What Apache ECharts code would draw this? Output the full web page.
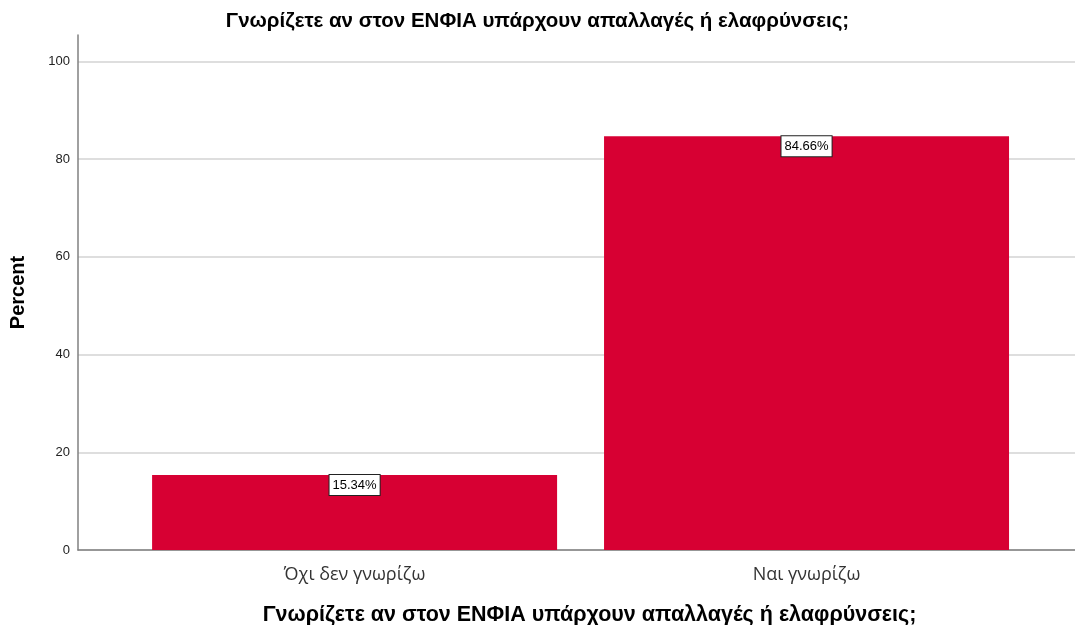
<!DOCTYPE html>
<html>
<head>
<meta charset="utf-8">
<script src="https://cdn.jsdelivr.net/npm/echarts@6/dist/echarts.min.js"></script>
<style>
  html, body { margin: 0; padding: 0; background: #fff; }
  #chart { width: 1075px; height: 625px; }
</style>
</head>
<body>
<div id="chart"></div>
<script>
// Survey answers and their share of respondents (%)
const categories = ['Όχι δεν γνωρίζω', 'Ναι γνωρίζω'];
const percents = [15.34, 84.66];
const titleText = 'Γνωρίζετε αν στον ΕΝΦΙΑ υπάρχουν απαλλαγές ή ελαφρύνσεις;';
const yTicks = [0, 20, 40, 60, 80, 100];

const chart = echarts.init(document.getElementById('chart'));

// Bars sit at positions 0 and 1 on a numeric x scale so the plot frame
// can extend past the outer bars on both sides.
const barData = percents.map((v, i) => [i, v]);

const boldFont = { fontFamily: 'Liberation Sans, Arial, sans-serif', fontSize: 20, fontWeight: 'bold', color: '#000' };

chart.setOption({
  animation: false,
  backgroundColor: '#ffffff',
  title: {
    text: titleText,
    left: 'center',
    top: 6,
    textStyle: Object.assign({}, boldFont, { fontSize: 20.5 })
  },
  grid: { left: 78, right: 0, top: 35, bottom: 75, outerBoundsMode: 'none' },
  xAxis: {
    type: 'value',
    min: -0.612,
    max: 1.594,
    name: titleText,
    nameLocation: 'middle',
    nameGap: 54,
    nameTextStyle: Object.assign({}, boldFont, { fontSize: 21.5, padding: [0, 0, 0, 26] }),
    splitLine: { show: false },
    axisLine: { show: true, onZero: false, lineStyle: { color: '#808080', width: 1.5 } },
    axisTick: { show: false },
    axisLabel: {
      customValues: [0, 1],
      formatter: v => categories[Math.round(v)],
      margin: 16,
      fontFamily: 'Open Sans, Noto Sans, sans-serif',
      fontSize: 18,
      color: '#333'
    }
  },
  yAxis: {
    type: 'value',
    min: 0,
    max: 105.4,
    interval: 20,
    name: 'Percent',
    nameLocation: 'middle',
    nameGap: 50,
    nameTextStyle: boldFont,
    axisLine: { show: true, onZero: false, lineStyle: { color: '#808080', width: 1.5 } },
    axisTick: { show: false },
    axisLabel: {
      customValues: yTicks,
      margin: 8,
      fontFamily: 'Liberation Sans, Arial, sans-serif',
      fontSize: 13,
      color: '#222'
    },
    splitLine: { show: true, showMaxLine: false, lineStyle: { color: '#d3d3d3', width: 1.5 } }
  },
  series: [{
    type: 'bar',
    data: barData,
    barWidth: 405,
    itemStyle: { color: '#d70033' },
    label: {
      show: true,
      position: 'insideTop',
      distance: 0,
      formatter: p => p.value[1].toFixed(2) + '%',
      fontFamily: 'Liberation Sans, Arial, sans-serif',
      fontSize: 13,
      color: '#000',
      backgroundColor: '#fff',
      borderColor: '#222',
      borderWidth: 1,
      padding: [4, 3, 3, 3]
    }
  }]
});
</script>
</body>
</html>
